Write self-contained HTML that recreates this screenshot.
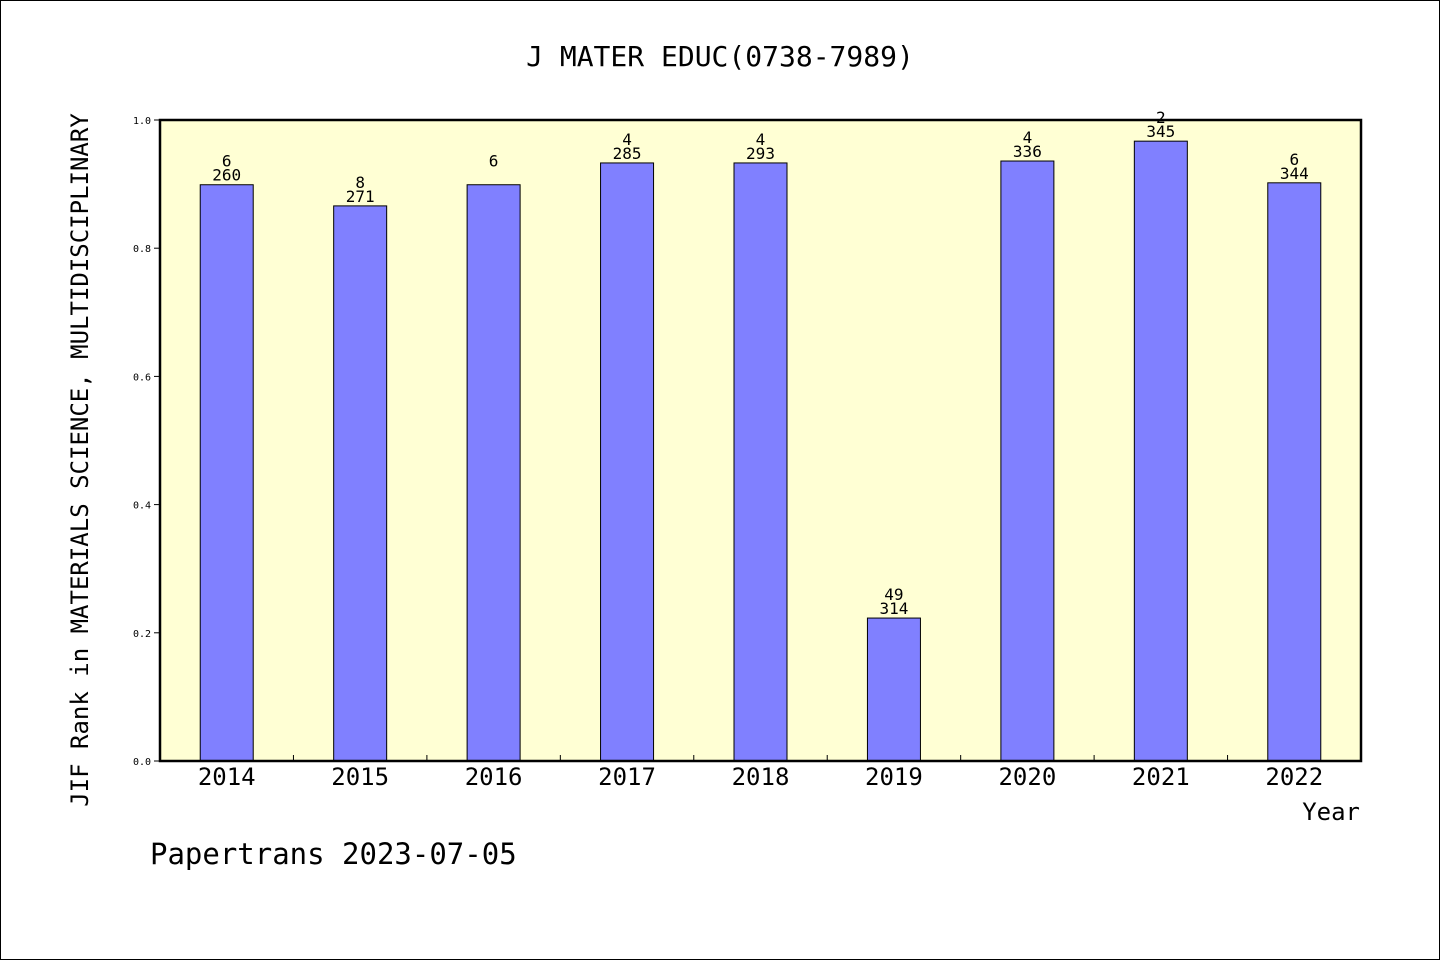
<!DOCTYPE html>
<html><head><meta charset="utf-8"><style>
body{margin:0;background:#fff}
svg{display:block;font-family:"DejaVu Sans Mono","Liberation Mono",monospace}
</style></head><body>
<svg id="c" width="1440" height="960" xmlns="http://www.w3.org/2000/svg">
<rect x="0.5" y="0.5" width="1439" height="959" fill="#fff" stroke="#000"/>
<text x="720" y="66" font-size="28" text-anchor="middle">J MATER EDUC(0738-7989)</text>
<rect x="160" y="120" width="1201" height="641" fill="#ffffd4"/>
<g id="marks"></g>
<rect x="160" y="120" width="1201" height="641" fill="none" stroke="#000" stroke-width="2.5"/>
<text transform="translate(88,460) rotate(-90)" font-size="24" text-anchor="middle">JIF Rank in MATERIALS SCIENCE, MULTIDISCIPLINARY</text>
<text x="1360" y="820" font-size="24" text-anchor="end">Year</text>
<text x="150" y="864" font-size="29">Papertrans 2023-07-05</text>
</svg>
<script>
const years=["2014","2015","2016","2017","2018","2019","2020","2021","2022"];
const values=[0.899,0.866,0.899,0.933,0.933,0.223,0.936,0.967,0.902];
const ranks=["6","8","6","4","4","49","4","2","6"];
const totals=["260","271","","285","293","314","336","345","344"];
const yTicks=[0,0.2,0.4,0.6,0.8,1.0];
const yTickLabels=["0.0","0.2","0.4","0.6","0.8","1.0"];
const L=160,R=1361,T=120,B=761;
const bw=(R-L)/years.length;
const y=v=>B-v*(B-T);
const xc=i=>L+bw*(i+0.5);
const g=document.getElementById('marks');
const NS="http://www.w3.org/2000/svg";
function mk(t,a){const e=document.createElementNS(NS,t);for(const k in a)e.setAttribute(k,a[k]);g.appendChild(e);return e;}
yTicks.forEach((v,i)=>{
 const tk=mk('line',{x1:L-6,x2:L,y1:y(v),y2:y(v),stroke:'#000'});
 
 
 const t=mk('text',{x:L-9,y:y(v)+4,'font-size':10,'text-anchor':'end'});
 t.textContent=yTickLabels[i];
 
 
});
years.forEach((yr,i)=>{
 const c=xc(i);
 if(i>0){const tk=mk('line',{x1:L+bw*i,x2:L+bw*i,y1:B-6,y2:B,stroke:'#000'});
 
 }
 const b=mk('rect',{x:c-26.5,y:y(values[i]),width:53,height:B-y(values[i]),fill:'#8080ff',stroke:'#000','stroke-width':1});
 
 
 const xl=mk('text',{x:c,y:785,'font-size':24,'text-anchor':'middle'});
 xl.textContent=yr;
 
 
 const top=y(values[i]);
 if(totals[i]){
  const t2=mk('text',{x:c,y:top-4,'font-size':16,'text-anchor':'middle'});
  t2.textContent=totals[i];
  
  
  const t1=mk('text',{x:c,y:top-18,'font-size':16,'text-anchor':'middle'});
  t1.textContent=ranks[i];
  
  
 } else {
  const t1=mk('text',{x:c,y:top-18,'font-size':16,'text-anchor':'middle'});
  t1.textContent=ranks[i];
  
  
 }
});
</script>
</body></html>
